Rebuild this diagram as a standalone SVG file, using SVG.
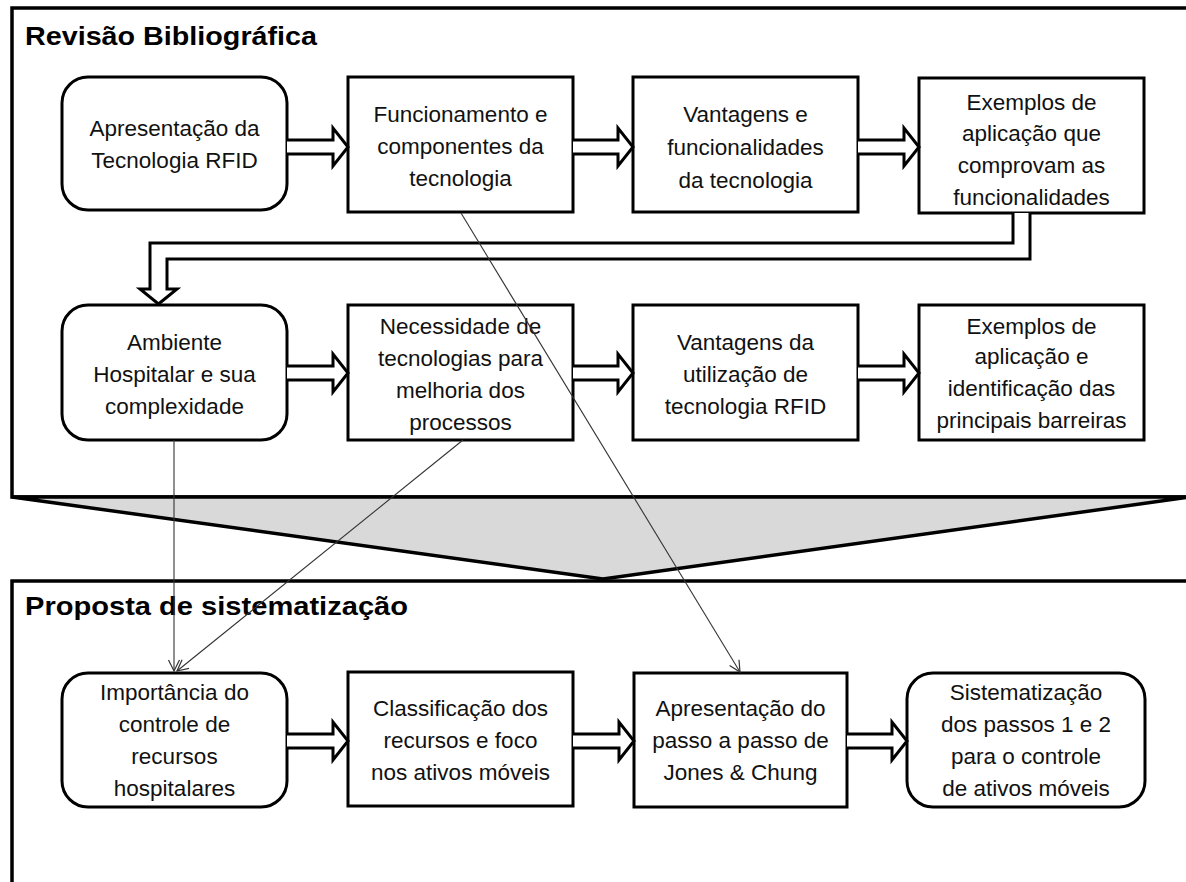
<svg xmlns="http://www.w3.org/2000/svg" width="1186" height="882" viewBox="0 0 1186 882">
<style>
.frame{fill:none;stroke:#000;stroke-width:3.5}
.box{fill:#fff;stroke:#000;stroke-width:3}
.blk{fill:#fff;stroke:#000;stroke-width:3;stroke-linejoin:miter}
.t{font-family:"Liberation Sans",Arial,sans-serif;font-size:22.5px;fill:#111;text-anchor:middle}
.h{font-family:"Liberation Sans",Arial,sans-serif;font-size:26px;font-weight:bold;fill:#000}
.thin{fill:none;stroke:#333;stroke-width:1.1}
</style>
<defs>
<marker id="ah" viewBox="-12 -7 14 14" markerWidth="14" markerHeight="14" markerUnits="userSpaceOnUse" orient="auto">
<path d="M-11,-5.5 L0,0 L-11,5.5" fill="none" stroke="#333" stroke-width="1.2"/>
</marker>
</defs>
<rect width="1186" height="882" fill="#fff"/>

<g id="frame-revisao">
<path class="frame" d="M1192,8 H12 V497 H1192"/>
<text class="h" x="25" y="45" textLength="292" lengthAdjust="spacingAndGlyphs">Revisão Bibliográfica</text>
</g>
<g id="funnel">
<polygon points="12,497 1190,497 603,579" fill="#d9d9d9" stroke="#000" stroke-width="3.5" stroke-linejoin="miter"/>
</g>
<g id="frame-proposta">
<path class="frame" d="M1192,581 H12 V890"/>
<text class="h" x="25" y="615" textLength="383" lengthAdjust="spacingAndGlyphs">Proposta de sistematização</text>
</g>

<g id="n1"><rect class="box" x="62" y="77" width="225" height="133" rx="26"/>
<text class="t"><tspan x="174.5" y="136">Apresentação da</tspan><tspan x="174.5" y="168">Tecnologia RFID</tspan></text></g>
<g id="n2"><rect class="box" x="348" y="77" width="225" height="135"/>
<text class="t"><tspan x="460.5" y="122">Funcionamento e</tspan><tspan x="460.5" y="154">componentes da</tspan><tspan x="460.5" y="186">tecnologia</tspan></text></g>
<g id="n3"><rect class="box" x="633" y="77" width="225" height="135"/>
<text class="t"><tspan x="745.5" y="122">Vantagens e</tspan><tspan x="745.5" y="155">funcionalidades</tspan><tspan x="745.5" y="188">da tecnologia</tspan></text></g>
<g id="n4"><rect class="box" x="919" y="78" width="225" height="135"/>
<text class="t"><tspan x="1031.5" y="110">Exemplos de</tspan><tspan x="1031.5" y="141">aplicação que</tspan><tspan x="1031.5" y="173">comprovam as</tspan><tspan x="1031.5" y="205">funcionalidades</tspan></text></g>

<g id="n5"><rect class="box" x="62" y="305" width="225" height="135" rx="26"/>
<text class="t"><tspan x="174.5" y="350">Ambiente</tspan><tspan x="174.5" y="382">Hospitalar e sua</tspan><tspan x="174.5" y="414">complexidade</tspan></text></g>
<g id="n6"><rect class="box" x="348" y="305" width="225" height="135"/>
<text class="t"><tspan x="460.5" y="334">Necessidade de</tspan><tspan x="460.5" y="366">tecnologias para</tspan><tspan x="460.5" y="398">melhoria dos</tspan><tspan x="460.5" y="430">processos</tspan></text></g>
<g id="n7"><rect class="box" x="633" y="305" width="225" height="135"/>
<text class="t"><tspan x="745.5" y="350">Vantagens da</tspan><tspan x="745.5" y="382">utilização de</tspan><tspan x="745.5" y="414">tecnologia RFID</tspan></text></g>
<g id="n8"><rect class="box" x="919" y="305" width="225" height="135"/>
<text class="t"><tspan x="1031.5" y="334">Exemplos de</tspan><tspan x="1031.5" y="364">aplicação e</tspan><tspan x="1031.5" y="396">identificação das</tspan><tspan x="1031.5" y="428">principais barreiras</tspan></text></g>

<g id="n9"><rect class="box" x="62" y="673" width="225" height="134" rx="26"/>
<text class="t"><tspan x="174.5" y="700">Importância do</tspan><tspan x="174.5" y="732">controle de</tspan><tspan x="174.5" y="764">recursos</tspan><tspan x="174.5" y="796">hospitalares</tspan></text></g>
<g id="n10"><rect class="box" x="348" y="672" width="225" height="134"/>
<text class="t"><tspan x="460.5" y="716">Classificação dos</tspan><tspan x="460.5" y="748">recursos e foco</tspan><tspan x="460.5" y="780">nos ativos móveis</tspan></text></g>
<g id="n11"><rect class="box" x="634" y="673" width="213" height="134"/>
<text class="t"><tspan x="740.5" y="716">Apresentação do</tspan><tspan x="740.5" y="748">passo a passo de</tspan><tspan x="740.5" y="780">Jones &amp; Chung</tspan></text></g>
<g id="n12"><rect class="box" x="907" y="673" width="238" height="134" rx="26"/>
<text class="t"><tspan x="1026" y="700">Sistematização</tspan><tspan x="1026" y="732">dos passos 1 e 2</tspan><tspan x="1026" y="764">para o controle</tspan><tspan x="1026" y="796">de ativos móveis</tspan></text></g>

<g id="connectors">
<path class="blk" d="M287,140 H333 V128 L348,147 L333,166 V154 H287"/>
<path class="blk" d="M573,140 H618 V128 L633,147 L618,166 V154 H573"/>
<path class="blk" d="M858,140 H904 V128 L919,147 L904,166 V154 H858"/>
<path class="blk" d="M1013,213 V243 H150 V289 H140 L158.5,304 L177,289 H167 V259 H1030 V213"/>
<path class="blk" d="M287,366 H333 V354 L348,373 L333,392 V380 H287"/>
<path class="blk" d="M573,366 H618 V354 L633,373 L618,392 V380 H573"/>
<path class="blk" d="M858,366 H904 V354 L919,373 L904,392 V380 H858"/>
<path class="blk" d="M287,734 H333 V722 L348,741 L333,760 V748 H287"/>
<path class="blk" d="M573,734 H619 V722 L634,741 L619,760 V748 H573"/>
<path class="blk" d="M847,734 H892 V722 L907,741 L892,760 V748 H847"/>
<path class="thin" d="M174,440 V671" marker-end="url(#ah)"/>
<path class="thin" d="M463,440 L177,671" marker-end="url(#ah)"/>
<path class="thin" d="M461,213 L740,672" marker-end="url(#ah)"/>
</g>
</svg>
